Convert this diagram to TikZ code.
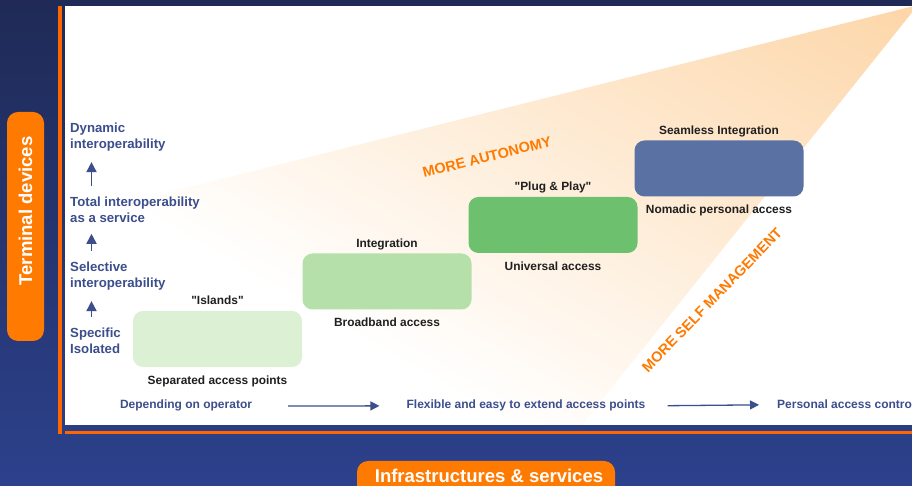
\documentclass[tikz,border=0pt]{standalone}
\usepackage{fontspec}
\setmainfont{Liberation Sans}
\usetikzlibrary{positioning,arrows.meta}

\definecolor{navytop}{RGB}{31,42,86}
\definecolor{navybot}{RGB}{44,65,140}
\definecolor{taborange}{RGB}{255,122,0}
\definecolor{lineorange}{RGB}{255,102,0}
\definecolor{tiertext}{RGB}{60,78,140}
\definecolor{wedgeorange}{RGB}{253,214,168}
\definecolor{stepone}{RGB}{220,240,212}
\definecolor{steptwo}{RGB}{181,224,170}
\definecolor{stepthree}{RGB}{109,192,109}
\definecolor{stepfour}{RGB}{90,113,163}

\tikzset{
  tier/.style={text=tiertext, font=\fontsize{13.2}{15.5}\selectfont\bfseries, align=left, anchor=west, inner sep=2pt},
  stage/.style={rounded corners=10pt, minimum width=169pt, minimum height=56pt, inner sep=0pt},
  caption/.style={text=black!88, font=\fontsize{11.9}{14}\selectfont\bfseries, inner sep=0pt, text height=9pt, text depth=2.5pt},
  road/.style={text=tiertext, font=\fontsize{12}{14}\selectfont\bfseries, inner sep=2pt, anchor=base},
  uparrow/.style={tiertext, line width=1.8pt, -{Triangle[length=10pt,width=10pt]}},
  roadarrow/.style={tiertext, line width=1.3pt, -{Triangle[length=9pt,width=9pt]}},
  tab/.style={fill=taborange, rounded corners=11pt},
  tabtext/.style={text=white, font=\fontsize{18.5}{22}\selectfont\bfseries},
  trend/.style={text=taborange, font=\fontsize{14.5}{17}\selectfont\bfseries}
}

\begin{document}
\begin{tikzpicture}[x=1pt,y=1pt]
\useasboundingbox (0,0) rectangle (912,486);
\shade[top color=navytop, bottom color=navybot] (0,0) rectangle (912,486);
\fill[white] (65,61) rectangle (912,480);

% orange wedge fading out to the lower left
\begin{scope}
\clip (65,61) rectangle (912,480);
\clip (918,481) -- (40,261.5) -- (40,40) -- (565,40) -- cycle;
\shade[transform canvas={shift={(918,481)},rotate=60}, left color=white, right color=wedgeorange] (-570,-700) rectangle (0,700);
\end{scope}

\draw[lineorange, line width=4pt] (60,52) -- (60,480);
\draw[lineorange, line width=3.5pt] (65,53.5) -- (912,53.5);

% side tabs
\node[tab, minimum width=37pt, minimum height=229pt] (devtab) at (25.5,259.5) {};
\node[tabtext, rotate=90] (devtext) at (25.5,275) {Terminal devices};
\node[tab, minimum width=258pt, minimum height=40pt] (infratab) at (486,5) {};
\node[tabtext, anchor=base] (infratext) at (489,3) {Infrastructures \& services};

% interoperability levels
\node[tier] (dynamic) at (68,349) {Dynamic\\interoperability};
\node[tier] (total) at (68,276) {Total interoperability\\as a service};
\node[tier] (selective) at (68,210) {Selective\\interoperability};
\node[tier] (specific) at (68,145) {Specific\\Isolated};
\coordinate (stem) at (91.5,0);
\draw[uparrow, shorten <=9pt, shorten >=9pt] (total.north -| stem) -- (dynamic.south -| stem);
\draw[uparrow, shorten <=9pt, shorten >=9pt] (selective.north -| stem) -- (total.south -| stem);
\draw[uparrow, shorten <=9pt, shorten >=9pt] (specific.north -| stem) -- (selective.south -| stem);

% stairs
\node[stage, fill=stepone] (islands) at (217.5,147) {};
\node[stage, fill=steptwo] (integration) at (387,204.5) {};
\node[stage, fill=stepthree] (plugplay) at (553,261) {};
\node[stage, fill=stepfour] (seamless) at (719,317.5) {};

\node[caption, above=3.5pt of islands] (islandsname) {\textquotedbl Islands\textquotedbl};
\node[caption, below=7.7pt of islands] (islandsaccess) {Separated access points};
\node[caption, above=3.5pt of integration] (integrationname) {Integration};
\node[caption, below=7.7pt of integration] (integrationaccess) {Broadband access};
\node[caption, above=3.5pt of plugplay] (plugplayname) {\textquotedbl Plug \& Play\textquotedbl};
\node[caption, below=7.7pt of plugplay] (plugplayaccess) {Universal access};
\node[caption, above=3.5pt of seamless] (seamlessname) {Seamless Integration};
\node[caption, below=7.7pt of seamless] (seamlessaccess) {Nomadic personal access};

\node[trend, rotate=14] (autonomy) at (487,329) {MORE AUTONOMY};
\node[trend, rotate=46] (selfmgmt) at (712,186) {MORE SELF MANAGEMENT};

% access points along the bottom
\node[road] (operator) at (186,77) {Depending on operator};
\node[road] (flexible) at (526,77) {Flexible and easy to extend access points};
\node[road, anchor=base west] (personal) at (775,77) {Personal access control};
\draw[roadarrow, shorten <=34pt, shorten >=25pt] (operator.east) -- (flexible.west);
\draw[roadarrow, shorten <=20pt, shorten >=16pt] (flexible.east) -- (personal.west);
\end{tikzpicture}
\end{document}
